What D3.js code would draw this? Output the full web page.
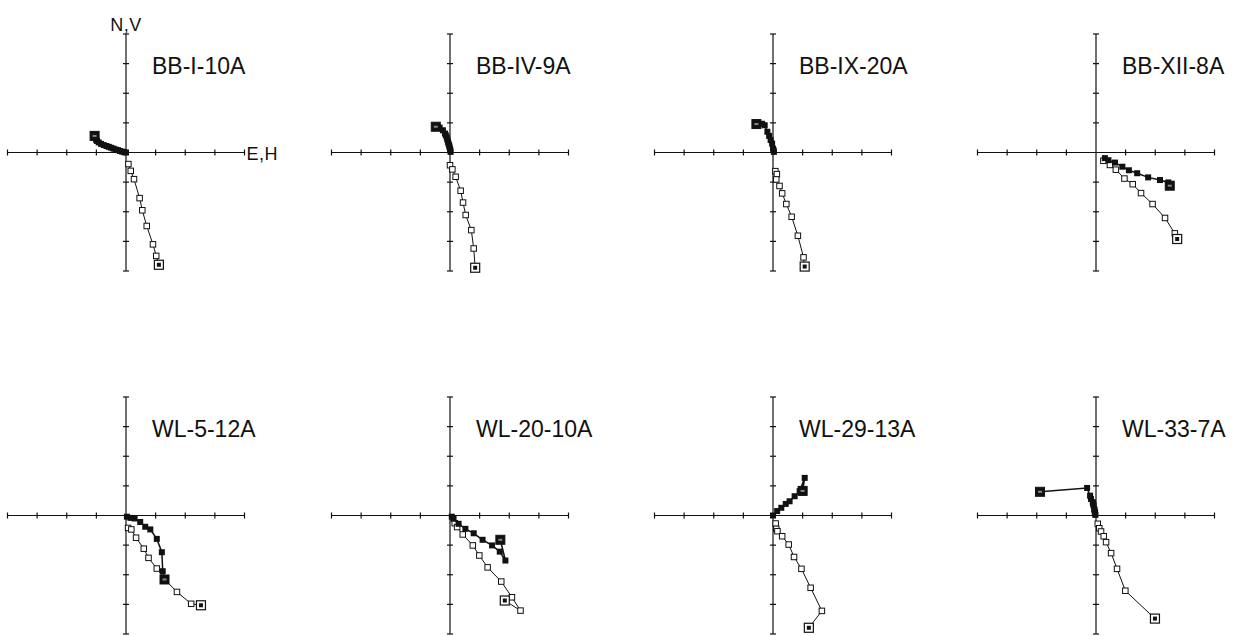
<!DOCTYPE html>
<meta charset="utf-8">
<style>
body { margin: 0; background: #fff; }
svg { display: block; }
text { font-family: "Liberation Sans", Arial, sans-serif; fill: #111; }
.axis line { stroke: #111; stroke-width: 1.2px; }
.path { fill: none; stroke: #111; stroke-width: 1px; }
.label { font-size: 23px; }
.axlab { font-size: 18px; letter-spacing: 0.5px; }
</style>
<svg width="1234" height="636"></svg>
<script src="https://cdn.jsdelivr.net/npm/d3@7"></script>
<script>

// specimen names, in reading order
var names = ["BB-I-10A", "BB-IV-9A", "BB-IX-20A", "BB-XII-8A",
             "WL-5-12A", "WL-20-10A", "WL-29-13A", "WL-33-7A"];

// tick positions on each axis (arbitrary intensity units)
var ticks = [-4, -3, -2, -1, 0, 1, 2, 3, 4];

// horizontal projection (E, N) -- solid squares; last point = NRM
var hor1 = [[0,0],[-0.06,0.01],[-0.13,0.03],[-0.2,0.05],[-0.27,0.08],[-0.35,0.1],[-0.42,0.13],[-0.5,0.16],[-0.58,0.19],[-0.66,0.22],[-0.75,0.25],[-0.84,0.29],[-0.92,0.34],[-0.98,0.39],[-1.01,0.43],[-1.04,0.49],[-1.06,0.56]];
var hor2 = [[0.02,0.02],[0.01,0.08],[0,0.13],[-0.02,0.19],[-0.03,0.25],[-0.05,0.3],[-0.07,0.36],[-0.09,0.44],[-0.11,0.51],[-0.14,0.58],[-0.17,0.64],[-0.24,0.75],[-0.35,0.84],[-0.48,0.87]];
var hor3 = [[0.03,0.02],[0.02,0.08],[0,0.13],[-0.03,0.3],[-0.08,0.42],[-0.13,0.56],[-0.19,0.7],[-0.28,0.92],[-0.37,0.97],[-0.56,0.96]];
var hor4 = [[0.3,-0.19],[0.42,-0.26],[0.64,-0.34],[0.89,-0.48],[1.11,-0.6],[1.39,-0.7],[1.76,-0.84],[2.16,-0.93],[2.44,-1.01],[2.49,-1.12]];
var hor5 = [[0.03,-0.04],[0.15,-0.08],[0.29,-0.1],[0.48,-0.22],[0.65,-0.38],[0.82,-0.47],[1.04,-0.79],[1.21,-1.24],[1.24,-1.88],[1.3,-2.16]];
var hor6 = [[0.06,-0.04],[0.12,-0.11],[0.29,-0.28],[0.52,-0.45],[0.8,-0.6],[1.1,-0.82],[1.42,-1.01],[1.68,-1.22],[1.87,-1.52],[1.7,-0.82]];
var hor7 = [[0,0],[0.14,0.15],[0.28,0.26],[0.43,0.39],[0.56,0.48],[0.73,0.65],[0.9,0.82],[1.07,1.27],[1.0,0.83]];
var hor8 = [[-0.02,0.02],[-0.04,0.07],[-0.03,0.11],[-0.05,0.18],[-0.06,0.22],[-0.08,0.34],[-0.1,0.4],[-0.11,0.45],[-0.17,0.56],[-0.2,0.67],[-0.3,0.93],[-1.89,0.8]];

// vertical projection (H, V) -- open squares; last point = NRM
var ver1 = [[0.08,-0.39],[0.16,-0.62],[0.27,-0.9],[0.46,-1.54],[0.55,-1.95],[0.7,-2.48],[0.91,-3.1],[1.02,-3.49],[1.11,-3.79]];
var ver2 = [[0,-0.43],[0.08,-0.57],[0.19,-0.82],[0.36,-1.29],[0.44,-1.69],[0.53,-2.11],[0.72,-2.62],[0.8,-3.24],[0.85,-3.89]];
var ver3 = [[0.08,-0.63],[0.13,-0.73],[0.11,-0.91],[0.22,-1.13],[0.31,-1.38],[0.45,-1.74],[0.63,-2.17],[0.84,-2.81],[1.03,-3.54],[1.07,-3.85]];
var ver4 = [[0.25,-0.28],[0.47,-0.42],[0.67,-0.58],[0.96,-0.88],[1.24,-1.07],[1.52,-1.37],[1.91,-1.74],[2.33,-2.21],[2.66,-2.73],[2.74,-2.92]];
var ver5 = [[0.07,-0.42],[0.18,-0.47],[0.34,-0.75],[0.6,-1.12],[0.76,-1.43],[1.04,-1.79],[1.33,-2.18],[1.72,-2.58],[2.2,-2.98],[2.53,-3.03]];
var ver6 = [[0.16,-0.26],[0.24,-0.39],[0.43,-0.64],[0.77,-1.01],[0.99,-1.35],[1.27,-1.75],[1.73,-2.23],[2.09,-2.76],[2.38,-3.21],[1.85,-2.87]];
var ver7 = [[0.09,-0.27],[0.11,-0.45],[0.15,-0.53],[0.31,-0.7],[0.53,-0.98],[0.71,-1.4],[0.96,-1.8],[1.27,-2.44],[1.65,-3.22],[1.21,-3.79]];
var ver8 = [[0.06,-0.28],[0.11,-0.43],[0.17,-0.54],[0.26,-0.7],[0.34,-0.9],[0.51,-1.27],[0.71,-1.8],[0.99,-2.54],[1.99,-3.48]];

var horiz = [hor1, hor2, hor3, hor4, hor5, hor6, hor7, hor8];
var vert = [ver1, ver2, ver3, ver4, ver5, ver6, ver7, ver8];

var svg = d3.select("svg");

var colX = [126, 450, 773, 1096],
    rowY = [152.5, 515.5],
    half = 118.5;

names.forEach(function(name, i) {
  var cx = colX[i % 4], cy = rowY[Math.floor(i / 4)];

  var x = d3.scaleLinear().domain([-4, 4]).range([cx - half, cx + half]);
  var y = d3.scaleLinear().domain([-4, 4]).range([cy + half, cy - half]);

  var g = svg.append("g");

  var ax = g.append("g").attr("class", "axis");
  ax.append("line")
      .attr("x1", x(-4)).attr("x2", x(4))
      .attr("y1", y(0)).attr("y2", y(0));
  ax.append("line")
      .attr("x1", x(0)).attr("x2", x(0))
      .attr("y1", y(-4)).attr("y2", y(4));
  ax.selectAll(".tx")
    .data(ticks.filter(function(t) { return t != 0; }))
    .enter().append("line")
      .attr("x1", function(d) { return x(d); })
      .attr("x2", function(d) { return x(d); })
      .attr("y1", y(0) - 3).attr("y2", y(0) + 3);
  ax.selectAll(".ty")
    .data(ticks.filter(function(t) { return t != 0; }))
    .enter().append("line")
      .attr("y1", function(d) { return y(d); })
      .attr("y2", function(d) { return y(d); })
      .attr("x1", x(0) - 3).attr("x2", x(0) + 3);

  var line = d3.line()
      .x(function(d) { return x(d[0]); })
      .y(function(d) { return y(d[1]); });

  // vertical component
  var v = vert[i];
  g.append("path").attr("class", "path").attr("d", line(v));
  g.selectAll(".vo")
    .data(v.slice(0, -1))
    .enter().append("rect")
      .attr("x", function(d) { return x(d[0]) - 2.75; })
      .attr("y", function(d) { return y(d[1]) - 2.75; })
      .attr("width", 5.5).attr("height", 5.5)
      .style("fill", "#fff").style("stroke", "#111").style("stroke-width", 1);

  // horizontal component
  var h = horiz[i];
  g.append("path").attr("class", "path").attr("d", line(h)).style("stroke-width", 1.5);
  g.selectAll(".ho")
    .data(h.slice(0, -1))
    .enter().append("rect")
      .attr("x", function(d) { return x(d[0]) - 3; })
      .attr("y", function(d) { return y(d[1]) - 3; })
      .attr("width", 6).attr("height", 6)
      .style("fill", "#111");

  // NRM points, drawn larger
  var nv = v[v.length - 1], nh = h[h.length - 1];
  g.append("rect")
      .attr("x", x(nv[0]) - 4.5).attr("y", y(nv[1]) - 4.5)
      .attr("width", 9).attr("height", 9)
      .style("fill", "#fff").style("stroke", "#111").style("stroke-width", 1.2);
  g.append("rect")
      .attr("x", x(nv[0]) - 2).attr("y", y(nv[1]) - 2)
      .attr("width", 4).attr("height", 4)
      .style("fill", "#111");
  g.append("rect")
      .attr("x", x(nh[0]) - 4.5).attr("y", y(nh[1]) - 4.5)
      .attr("width", 9).attr("height", 9)
      .style("fill", "#111").style("stroke", "#111");
  g.append("rect")
      .attr("x", x(nh[0]) - 2).attr("y", y(nh[1]) - 1)
      .attr("width", 4).attr("height", 2)
      .style("fill", "#888");

  g.append("text")
      .attr("class", "label")
      .attr("x", x(0) + 26)
      .attr("y", y(0) - 79)
      .text(name);

  if (i == 0) {
    g.append("text").attr("class", "axlab")
        .attr("x", x(0)).attr("y", y(4) - 3)
        .attr("text-anchor", "middle")
        .text("N,V");
    g.append("text").attr("class", "axlab")
        .attr("x", x(4) + 2).attr("y", y(0) + 7)
        .text("E,H");
  }
});

</script>
